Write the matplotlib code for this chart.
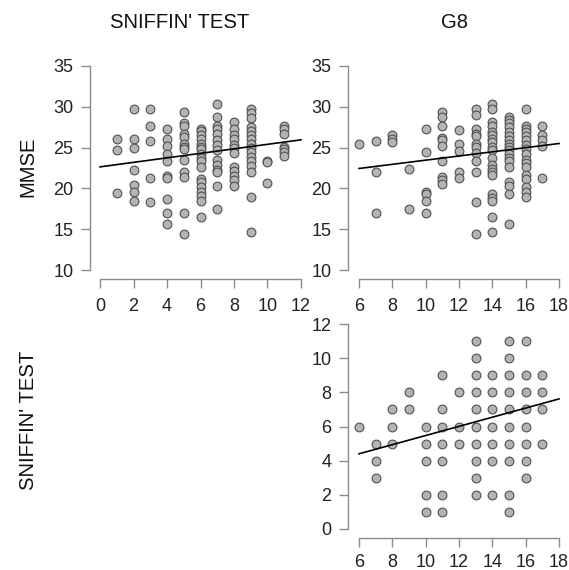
import numpy as np
import matplotlib
matplotlib.use("Agg")
import matplotlib.pyplot as plt

plt.rcParams['font.family'] = ['Liberation Sans', 'DejaVu Sans']

# top-left: MMSE against Sniffin' test score
sniff_x = [1, 1, 1,
           2, 2, 2, 2, 2, 2, 2,
           3, 3, 3, 3, 3,
           4, 4, 4, 4, 4, 4, 4, 4, 4, 4,
           5, 5, 5, 5, 5, 5, 5, 5, 5, 5, 5, 5, 5,
           6, 6, 6, 6, 6, 6, 6, 6, 6, 6, 6, 6, 6, 6, 6, 6, 6, 6,
           7, 7, 7, 7, 7, 7, 7, 7, 7, 7, 7, 7, 7, 7,
           8, 8, 8, 8, 8, 8, 8, 8, 8, 8, 8, 8,
           9, 9, 9, 9, 9, 9, 9, 9, 9, 9, 9, 9, 9, 9, 9, 9,
           10, 10, 10,
           11, 11, 11, 11, 11, 11, 11]
sniff_mmse = [26.1, 24.7, 19.4,
              29.7, 26.0, 25.0, 22.2, 20.4, 19.5, 18.4,
              29.7, 27.7, 25.8, 21.3, 18.3,
              27.3, 26.1, 25.2, 24.2, 23.3, 21.5, 21.3, 18.7, 17.0, 15.7,
              29.4, 28.0, 27.7, 26.7, 26.3, 25.4, 25.1, 24.8, 23.5, 22.0, 21.4, 17.0, 14.4,
              27.3, 27.0, 26.5, 26.1, 25.5, 25.1, 24.8, 24.2, 23.7, 23.3, 22.6, 21.2, 20.8, 20.2, 19.6, 19.1, 18.4, 16.5,
              30.4, 28.8, 27.7, 27.3, 26.7, 25.9, 25.3, 24.7, 23.5, 22.9, 22.3, 22.0, 20.3, 17.5,
              28.1, 27.3, 26.5, 26.1, 25.3, 24.9, 24.3, 22.6, 22.1, 21.5, 21.0, 20.3,
              29.7, 29.2, 28.6, 27.5, 27.0, 26.5, 26.0, 25.5, 25.0, 24.5, 23.8, 23.3, 22.7, 22.0, 19.0, 14.7,
              23.4, 23.2, 20.7,
              27.7, 27.3, 26.7, 25.1, 24.8, 24.4, 24.0]

# top-right: MMSE against G8
g8_x = [6,
        7, 7, 7,
        8, 8, 8,
        9, 9,
        10, 10, 10, 10, 10, 10,
        11, 11, 11, 11, 11, 11, 11, 11, 11, 11,
        12, 12, 12, 12, 12,
        13, 13, 13, 13, 13, 13, 13, 13, 13, 13, 13, 13,
        14, 14, 14, 14, 14, 14, 14, 14, 14, 14, 14, 14, 14, 14, 14, 14, 14, 14, 14, 14,
        15, 15, 15, 15, 15, 15, 15, 15, 15, 15, 15, 15, 15, 15, 15, 15, 15, 15,
        16, 16, 16, 16, 16, 16, 16, 16, 16, 16, 16, 16, 16, 16, 16, 16, 16,
        17, 17, 17, 17, 17]
g8_mmse = [25.5,
           25.8, 22.0, 17.0,
           26.5, 26.1, 25.7,
           22.4, 17.5,
           27.3, 24.4, 19.6, 19.3, 18.4, 17.0,
           29.4, 28.8, 27.7, 26.2, 25.9, 25.2, 23.3, 21.4, 21.0, 20.5,
           27.1, 25.5, 24.6, 22.0, 21.3,
           29.7, 29.0, 27.3, 26.7, 26.4, 25.4, 25.1, 24.3, 23.3, 22.0, 18.3, 14.4,
           30.4, 29.7, 28.1, 27.7, 26.9, 26.5, 26.1, 25.7, 25.1, 24.7, 23.7, 22.9, 22.4, 22.0, 21.6, 19.3, 18.8, 18.4, 16.5, 14.7,
           28.8, 28.4, 28.0, 27.5, 26.9, 26.4, 25.9, 25.5, 25.1, 24.7, 24.2, 23.7, 23.3, 22.6, 20.8, 20.3, 19.3, 15.7,
           29.7, 27.7, 27.3, 26.9, 26.4, 25.9, 25.3, 24.8, 24.2, 23.5, 23.1, 22.6, 21.6, 21.2, 20.2, 19.6, 19.0,
           27.7, 26.6, 25.9, 25.2, 21.3]

# bottom-right: Sniffin' test against G8
g8_x2 = [6,
         7, 7, 7,
         8, 8, 8,
         9, 9,
         10, 10, 10, 10, 10,
         11, 11, 11, 11, 11, 11, 11,
         12, 12, 12,
         13, 13, 13, 13, 13, 13, 13, 13, 13, 13,
         14, 14, 14, 14, 14, 14, 14,
         15, 15, 15, 15, 15, 15, 15, 15, 15, 15,
         16, 16, 16, 16, 16, 16, 16, 16,
         17, 17, 17, 17]
g8_sniff = [6,
            5, 4, 3,
            7, 6, 5,
            8, 7,
            6, 5, 4, 2, 1,
            9, 7, 6, 5, 4, 2, 1,
            8, 6, 5,
            11, 10, 9, 8, 7, 6, 5, 4, 3, 2,
            9, 8, 7, 6, 5, 4, 2,
            11, 10, 9, 8, 7, 6, 5, 4, 2, 1,
            11, 9, 8, 7, 6, 5, 4, 3,
            9, 8, 7, 5]

# fitted lines (intercept at the first tick, slope)
fit_tl = (22.64, 0.276)
fit_tr = (22.44, 0.255)
fit_br = (4.40, 0.268)

col_titles = ["SNIFFIN' TEST", "G8"]
row_titles = ["MMSE", "SNIFFIN' TEST"]

W, H = 569, 570
fig = plt.figure(figsize=(W / 100, H / 100), dpi=100)


def make_ax(left, right, top, bottom, xlim, ylim):
    ax = fig.add_axes([left / W, 1 - bottom / H, (right - left) / W, (bottom - top) / H])
    ax.set_xlim(*xlim)
    ax.set_ylim(*ylim)
    ax.set_facecolor("none")
    return ax


def style(ax, xticks, yticks, xpad=7.5):
    for s in ["top", "right"]:
        ax.spines[s].set_visible(False)
    for s in ["left", "bottom"]:
        ax.spines[s].set_color("#8c8c8c")
        ax.spines[s].set_linewidth(1.0)
    ax.spines["bottom"].set_bounds(xticks[0], xticks[-1])
    ax.spines["left"].set_bounds(yticks[0], yticks[-1])
    ax.set_xticks(xticks)
    ax.set_yticks(yticks)
    ax.tick_params(axis="both", direction="out", length=6.3, width=1.0,
                   color="#8c8c8c", labelsize=13, labelcolor="#222222")
    ax.tick_params(axis="x", pad=xpad)
    ax.tick_params(axis="y", pad=5.5)


def points(ax, x, y, fit, x0, x1):
    ax.scatter(x, y, s=40, facecolor="#b4b4b4", edgecolor="#505050",
               linewidths=0.8, zorder=2, clip_on=False)
    xs = np.array([x0, x1])
    ax.plot(xs, fit[0] + fit[1] * (xs - x0), color="black", lw=1.2, zorder=3)


ax1 = make_ax(90, 311, 57, 279, (-0.6, 12.6), (8.9, 36.1))
style(ax1, list(range(0, 13, 2)), list(range(10, 36, 5)))
points(ax1, sniff_x, sniff_mmse, fit_tl, 0, 12)

ax2 = make_ax(348, 570, 57, 279, (5.34, 18.66), (8.9, 36.1))
style(ax2, list(range(6, 19, 2)), list(range(10, 36, 5)))
points(ax2, g8_x, g8_mmse, fit_tr, 6, 18)

ax3 = make_ax(348, 570, 315, 538, (5.34, 18.66), (-0.53, 12.53))
style(ax3, list(range(6, 19, 2)), list(range(0, 13, 2)), xpad=5.5)
points(ax3, g8_x2, g8_sniff, fit_br, 6, 18)

fig.text(180 / W, 1 - 23 / H, col_titles[0], ha="center", va="center", fontsize=14.6, color="#111111")
fig.text(455 / W, 1 - 23 / H, col_titles[1], ha="center", va="center", fontsize=14.6, color="#111111")
fig.text(28 / W, 1 - 167 / H, row_titles[0], ha="center", va="center", rotation=90, fontsize=14.6, color="#111111")
fig.text(28 / W, 1 - 420 / H, row_titles[1], ha="center", va="center", rotation=90, fontsize=14.6, color="#111111")

fig.savefig("out.png", dpi=100, facecolor="white")
